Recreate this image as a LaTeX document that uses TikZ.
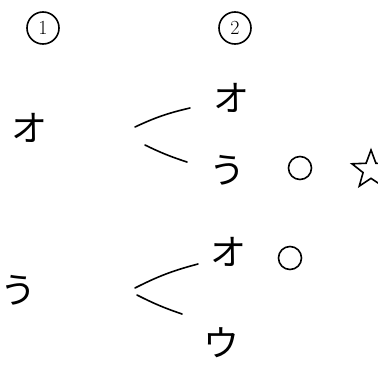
\documentclass[tikz,border=0pt]{standalone}
\usepackage{fontspec}
\newfontfamily\jpfont{Noto Sans CJK JP}
\usetikzlibrary{shapes.geometric}

\begin{document}
\begin{tikzpicture}[x=1pt,y=-1pt,
  line width=1.6pt,line cap=round,
  kana/.style={font=\jpfont\fontsize{36}{36}\selectfont,inner sep=0pt},
  stage/.style={circle,draw,minimum size=32pt,inner sep=0pt,
                font=\fontsize{20}{20}\selectfont},
  okmark/.style={circle,draw,minimum size=23pt,inner sep=0pt},
  starmark/.style={star,star points=5,star point ratio=2.4,draw,
                   minimum size=40pt,inner sep=0pt}
]
  \useasboundingbox (0,0) rectangle (378,369);

  % stage labels
  \node[stage] (s1) at (43,28) {1};
  \node[stage] (s2) at (235,28) {2};

  % first row
  \node[kana] (a1) at (29,128) {オ};
  \node[kana] (b1) at (231,98) {オ};
  \node[kana] (b2) at (227,170) {う};
  \node[okmark] (c1) at (300,168) {};
  \node[starmark] (d1) at (371,170) {};

  \coordinate (f1u) at (135,127);
  \coordinate (e1u) at (190,108);
  \coordinate (f1l) at (145,145);
  \coordinate (e1l) at (187,162);
  \draw (f1u) to[bend left=6] (e1u);
  \draw (f1l) to[bend left=-4] (e1l);

  % second row
  \node[kana] (a2) at (18,290) {う};
  \node[kana] (b3) at (228,252) {オ};
  \node[okmark] (c2) at (290,258) {};
  \node[kana] (b4) at (221,343) {ウ};

  \coordinate (f2u) at (135,288);
  \coordinate (e2u) at (198,264);
  \coordinate (f2l) at (137,295);
  \coordinate (e2l) at (182,314);
  \draw (f2u) to[bend left=6] (e2u);
  \draw (f2l) to[bend left=-4] (e2l);
\end{tikzpicture}
\end{document}
